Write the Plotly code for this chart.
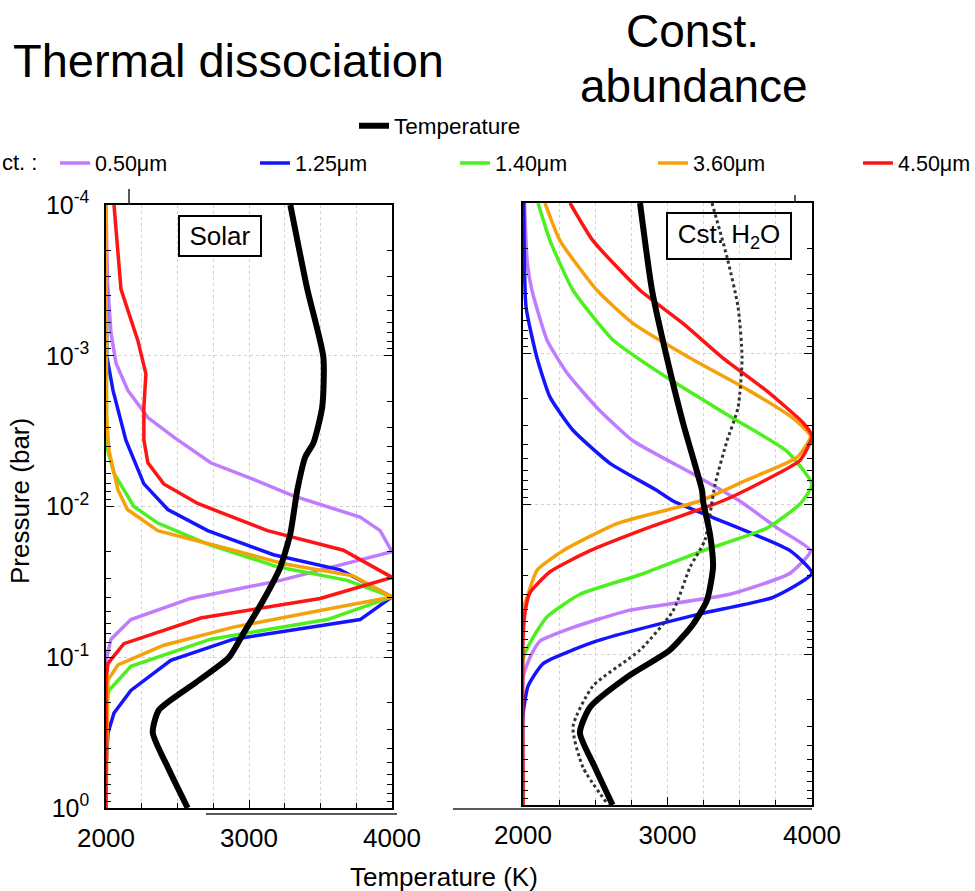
import plotly.graph_objects as go

# ---------------- DATA ----------------
# Left panel ("Solar", thermal dissociation); pressures given as log10(P/bar)
solar_temp_logp = [-4, -3.44, -2.99, -2.66, -2.42, -2.33, -2.11, -1.82, -1.60, -1.38, -1.16, -1.0, -0.83, -0.65, -0.50, -0.27, 0]
solar_temp_T = [3289, 3408, 3520, 3512, 3450, 3394, 3338, 3289, 3220, 3101, 2962, 2860, 2625, 2370, 2327, 2432, 2571]

solar_050_logp = [-4, -3.5, -3.15, -2.95, -2.77, -2.59, -2.46, -2.29, -2.18, -2.07, -1.93, -1.84, -1.70, -1.51, -1.39, -1.25, -1.12, -0.98, 0]
solar_050_T = [2000, 2010, 2035, 2070, 2153, 2293, 2474, 2732, 3031, 3310, 3777, 3917, 4000, 3220, 2592, 2174, 2035, 2000, 2000]

solar_125_logp = [-4, -3.0, -2.77, -2.44, -2.15, -1.98, -1.84, -1.68, -1.58, -1.40, -1.25, -1.12, -0.98, -0.78, -0.63, -0.50, -0.27, 0]
solar_125_T = [2000, 2005, 2049, 2139, 2265, 2432, 2711, 3171, 3638, 4000, 3777, 2892, 2453, 2174, 2056, 2014, 2000, 2000]

solar_140_logp = [-4, -2.4, -2.22, -2.0, -1.89, -1.75, -1.60, -1.51, -1.40, -1.25, -1.12, -0.94, -0.78, -0.68, 0]
solar_140_T = [2000, 2005, 2056, 2195, 2362, 2711, 3199, 3687, 4000, 3547, 2732, 2174, 2021, 2000, 2000]

solar_360_logp = [-4, -2.6, -2.37, -2.11, -1.98, -1.84, -1.71, -1.62, -1.54, -1.40, -1.31, -1.20, -1.08, -0.95, -0.85, 0]
solar_360_T = [2000, 2003, 2021, 2084, 2150, 2362, 2892, 3241, 3729, 4000, 3498, 2892, 2404, 2084, 2014, 2000]

solar_450_logp = [-4, -3.44, -3.10, -2.88, -2.66, -2.44, -2.29, -2.15, -2.02, -1.84, -1.71, -1.53, -1.39, -1.26, -1.09, -0.96, -0.85, 0]
solar_450_T = [2056, 2105, 2223, 2279, 2265, 2265, 2293, 2404, 2641, 3129, 3660, 4000, 3498, 2662, 2125, 2014, 2000, 2000]

# Right panel ("Cst. H2O", constant abundance)
cst_temp_logp = [-4, -3.42, -2.97, -2.54, -2.09, -2.02, -1.80, -1.58, -1.36, -1.20, -1.03, -0.85, -0.65, -0.48, -0.25, 0]
cst_temp_T = [2810, 2893, 2996, 3107, 3239, 3246, 3294, 3315, 3273, 3176, 3017, 2720, 2464, 2394, 2498, 2620]

cst_dotted_logp = [-4, -3.64, -3.31, -2.97, -2.64, -2.42, -2.13, -1.76, -1.58, -1.29, -1.03, -0.79, -0.52, -0.25, 0]
cst_dotted_T = [3308, 3412, 3488, 3516, 3488, 3412, 3329, 3259, 3156, 3038, 2810, 2484, 2346, 2415, 2590]

cst_050_logp = [-4, -3.6, -3.42, -3.09, -2.87, -2.64, -2.42, -2.20, -2.02, -1.91, -1.84, -1.69, -1.54, -1.40, -1.29, -1.18, -1.09, -0.98, -0.85, 0]
cst_050_T = [2010, 2030, 2062, 2166, 2305, 2512, 2761, 3176, 3500, 3660, 3760, 3990, 3848, 3432, 2720, 2346, 2118, 2048, 2000, 2000]

cst_125_logp = [-4, -3.31, -2.97, -2.71, -2.49, -2.27, -2.09, -2.02, -1.91, -1.69, -1.54, -1.38, -1.27, -1.09, -0.94, -0.79, -0.6, 0]
cst_125_T = [2005, 2021, 2097, 2187, 2346, 2602, 2927, 3038, 3315, 3848, 4000, 3730, 3225, 2512, 2139, 2035, 2000, 2000]

cst_140_logp = [-4, -3.75, -3.42, -3.09, -2.84, -2.57, -2.35, -2.13, -2.0, -1.84, -1.69, -1.53, -1.40, -1.25, -1.10, -0.97, 0]
cst_140_T = [2104, 2187, 2346, 2623, 2996, 3453, 3827, 4000, 3917, 3689, 3246, 2810, 2394, 2166, 2062, 2000, 2000]

cst_360_logp = [-4, -3.75, -3.42, -3.20, -2.97, -2.75, -2.57, -2.45, -2.31, -2.16, -2.02, -1.87, -1.69, -1.56, -1.38, -1.30, 0]
cst_360_T = [2152, 2256, 2512, 2761, 3156, 3571, 3869, 3990, 3896, 3550, 3225, 2650, 2277, 2097, 2028, 2000, 2000]

cst_450_logp = [-4, -3.75, -3.42, -3.20, -2.97, -2.75, -2.54, -2.45, -2.29, -2.14, -2.02, -1.84, -1.69, -1.55, -1.41, -1.28, -1.1, 0]
cst_450_T = [2325, 2484, 2810, 3107, 3384, 3689, 3938, 4000, 3917, 3640, 3380, 2858, 2464, 2187, 2048, 2014, 2000, 2000]

wavelength_labels = ["0.50\u03bcm", "1.25\u03bcm", "1.40\u03bcm", "3.60\u03bcm", "4.50\u03bcm"]
wavelength_colors = ["#c07cff", "#1414ff", "#4cf01e", "#f5a10a", "#ff1414"]
legend_entry_widths = [155, 155, 153, 160, 68]

x_tick_values = [2000, 3000, 4000]
x_tick_labels = ["2000", "3000", "4000"]
y_tick_values = [1e-4, 1e-3, 1e-2, 1e-1, 1]
y_tick_labels = ["10<sup>-4</sup>", "10<sup>-3</sup>", "10<sup>-2</sup>", "10<sup>-1</sup>", "10<sup>0</sup>"]

FONT = "Liberation Sans, Arial, Helvetica, sans-serif"
W, H = 975, 891
GRID = "#d2d2d2"


def to_p(logp):
    return [10 ** v for v in logp]


fig = go.Figure()

solar_curves = [(solar_050_logp, solar_050_T), (solar_125_logp, solar_125_T), (solar_140_logp, solar_140_T),
                (solar_360_logp, solar_360_T), (solar_450_logp, solar_450_T)]
cst_curves = [(cst_050_logp, cst_050_T), (cst_125_logp, cst_125_T), (cst_140_logp, cst_140_T),
              (cst_360_logp, cst_360_T), (cst_450_logp, cst_450_T)]

for (lp, t), name, col, lw in zip(solar_curves, wavelength_labels, wavelength_colors, legend_entry_widths):
    fig.add_trace(go.Scatter(x=t, y=to_p(lp), mode="lines", name=name, legend="legend2", legendwidth=lw,
                             line=dict(color=col, width=3.5), xaxis="x", yaxis="y", hoverinfo="skip"))
fig.add_trace(go.Scatter(x=solar_temp_T, y=to_p(solar_temp_logp), mode="lines", name="Temperature",
                         legend="legend", line=dict(color="black", width=6, shape="spline", smoothing=0.6),
                         xaxis="x", yaxis="y", hoverinfo="skip"))

for (lp, t), name, col in zip(cst_curves, wavelength_labels, wavelength_colors):
    fig.add_trace(go.Scatter(x=t, y=to_p(lp), mode="lines", name=name, showlegend=False,
                             line=dict(color=col, width=3.5, shape="spline", smoothing=0.5),
                             xaxis="x2", yaxis="y2", hoverinfo="skip"))
fig.add_trace(go.Scatter(x=cst_dotted_T, y=to_p(cst_dotted_logp), mode="lines", showlegend=False,
                         line=dict(color="#333333", width=3, dash="dot", shape="spline", smoothing=0.6),
                         xaxis="x2", yaxis="y2", hoverinfo="skip"))
fig.add_trace(go.Scatter(x=cst_temp_T, y=to_p(cst_temp_logp), mode="lines", showlegend=False,
                         line=dict(color="black", width=6, shape="spline", smoothing=0.6),
                         xaxis="x2", yaxis="y2", hoverinfo="skip"))

minor_y = [k * 10 ** n for n in range(-4, 0) for k in range(2, 10)]


def xaxis(domain, anchor):
    return dict(domain=domain, anchor=anchor, range=[2000, 4000], tickvals=x_tick_values, ticktext=x_tick_labels,
                ticks="inside", ticklen=8, tickwidth=1.3, tickcolor="black", showline=True, linecolor="black",
                linewidth=1.5, mirror=True, showgrid=True, gridcolor=GRID, griddash="dot", gridwidth=1,
                zeroline=False, automargin=False, tickfont=dict(family=FONT, size=26, color="black"),
                ticklabelstandoff=6,
                minor=dict(dtick=250, tick0=2000, ticks="inside", ticklen=5, tickcolor="black",
                           showgrid=True, gridcolor=GRID, griddash="dot", gridwidth=1))


def yaxis(domain, anchor, labels):
    return dict(domain=domain, anchor=anchor, type="log", range=[0, -4], tickvals=y_tick_values,
                ticktext=y_tick_labels, showticklabels=labels, ticks="inside", ticklen=8, tickwidth=1.3,
                tickcolor="black", showline=True, linecolor="black", linewidth=1.5, mirror="allticks",
                showgrid=True, gridcolor=GRID, griddash="dot", gridwidth=1, zeroline=False,
                automargin=False, tickfont=dict(family=FONT, size=25, color="black"), ticklabelstandoff=10,
                minor=dict(tickvals=minor_y, ticks="inside", ticklen=5, tickcolor="black", showgrid=False))


def px(x):
    return x / W


def py(y):
    return 1 - y / H


fig.update_layout(
    width=W, height=H, margin=dict(l=0, r=0, t=0, b=0, autoexpand=False),
    paper_bgcolor="white", plot_bgcolor="white",
    font=dict(family=FONT, color="black"),
    xaxis=xaxis([px(106), px(392)], "y"),
    yaxis=yaxis([py(808), py(205)], "x", True),
    xaxis2=xaxis([px(523), px(812)], "y2"),
    yaxis2=yaxis([py(805), py(203)], "x2", False),
    legend=dict(x=px(354), y=py(126), xanchor="left", yanchor="middle", orientation="h",
                font=dict(family=FONT, size=22.5, color="black"), bgcolor="rgba(0,0,0,0)"),
    legend2=dict(x=px(55), y=py(163), xanchor="left", yanchor="middle", orientation="h",
                 entrywidthmode="pixels",
                 font=dict(family=FONT, size=21.5, color="black"), bgcolor="rgba(0,0,0,0)"),
    showlegend=True,
)

annotations = [
    dict(text="Thermal dissociation", x=px(228), y=py(60), font=dict(size=47)),
    dict(text="Const.", x=px(692), y=py(31), font=dict(size=46)),
    dict(text="abundance", x=px(694), y=py(86), font=dict(size=46)),
    dict(text="ct. :", x=px(0), y=py(163), xanchor="left", font=dict(size=22)),
    dict(text="Temperature (K)", x=px(444), y=py(877), font=dict(size=26)),
    dict(text="Pressure (bar)", x=px(20), y=py(501), textangle=-90, font=dict(size=26)),
    dict(text="Solar", x=px(220), y=py(236), font=dict(size=26), bordercolor="black", borderwidth=2,
         width=80, height=38, borderpad=0, bgcolor="white"),
    dict(text="Cst. H<sub>2</sub>O", x=px(729), y=py(236), font=dict(size=26), bordercolor="black",
         borderwidth=2, width=122, height=44, borderpad=0, bgcolor="rgba(255,255,255,0)"),
]
for a in annotations:
    a.setdefault("xanchor", "center")
    a.update(xref="paper", yref="paper", yanchor="middle", showarrow=False)
    a["font"].update(family=FONT, color="black")
fig.update_layout(annotations=annotations)

# collage edge artefacts of the original figure
shapes = [
    dict(type="line", x0=px(206), x1=px(397), y0=py(814), y1=py(814)),
    dict(type="line", x0=px(453), x1=px(812), y0=py(809), y1=py(809)),
    dict(type="line", x0=px(129), x1=px(129), y0=py(189), y1=py(205)),
    dict(type="line", x0=px(795), x1=px(795), y0=py(195), y1=py(203)),
]
for s in shapes:
    s.update(xref="paper", yref="paper", line=dict(color="#222222", width=1.5))
fig.update_layout(shapes=shapes)

fig.write_html("out.html")
